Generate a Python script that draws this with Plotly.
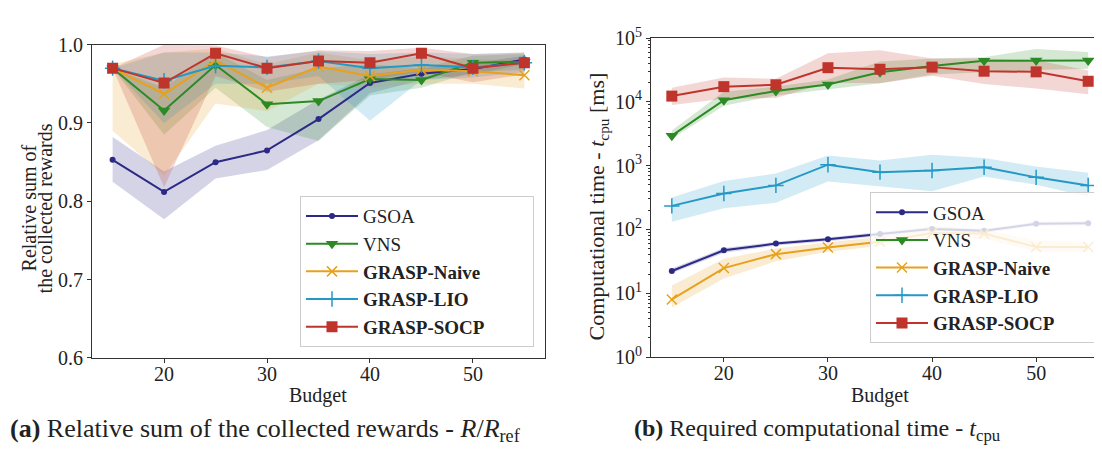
import plotly.graph_objects as go

W, H = 1102, 449

budget = [15, 20, 25, 30, 35, 40, 45, 50, 55]
names = ["GSOA", "VNS", "<b>GRASP-Naive</b>", "<b>GRASP-LIO</b>", "<b>GRASP-SOCP</b>"]
colors = ["#2c2a86", "#2b8a24", "#e8a11c", "#2499c6", "#bf352b"]
symbols = ["circle", "triangle-down", "x-thin-open", "cross-thin-open", "square"]
msizes = [6, 11, 10, 11, 11]

# (a) relative sum of rewards: mean, lower, upper
rew_gsoa = [0.853, 0.812, 0.850, 0.865, 0.905, 0.951, 0.963, 0.969, 0.981]
rew_gsoa_lo = [0.825, 0.777, 0.829, 0.840, 0.878, 0.938, 0.955, 0.962, 0.975]
rew_gsoa_hi = [0.882, 0.838, 0.871, 0.891, 0.930, 0.962, 0.970, 0.976, 0.986]
rew_vns = [0.970, 0.916, 0.974, 0.924, 0.928, 0.956, 0.955, 0.977, 0.978]
rew_vns_lo = [0.970, 0.885, 0.945, 0.895, 0.877, 0.935, 0.945, 0.965, 0.968]
rew_vns_hi = [0.970, 0.945, 0.990, 0.955, 0.970, 0.975, 0.970, 0.986, 0.988]
rew_naive = [0.970, 0.937, 0.980, 0.945, 0.972, 0.960, 0.968, 0.966, 0.961]
rew_naive_lo = [0.890, 0.833, 0.925, 0.915, 0.950, 0.945, 0.950, 0.950, 0.944]
rew_naive_hi = [0.975, 0.990, 0.995, 0.975, 0.990, 0.980, 0.985, 0.982, 0.980]
rew_lio = [0.970, 0.954, 0.973, 0.971, 0.979, 0.970, 0.974, 0.971, 0.977]
rew_lio_lo = [0.970, 0.900, 0.950, 0.950, 0.960, 0.903, 0.955, 0.958, 0.965]
rew_lio_hi = [0.970, 0.990, 0.990, 0.985, 0.992, 0.988, 0.990, 0.988, 0.990]
rew_socp = [0.970, 0.951, 0.989, 0.970, 0.979, 0.977, 0.989, 0.970, 0.977]
rew_socp_lo = [0.970, 0.818, 0.960, 0.940, 0.950, 0.955, 0.965, 0.952, 0.962]
rew_socp_hi = [0.970, 1.000, 0.999, 0.984, 0.993, 0.992, 0.996, 0.988, 0.990]

# (b) computational time [ms]: mean, lower, upper
t_gsoa = [22.3, 47, 60, 70, 85, 102, 95, 123, 125]
t_gsoa_lo = [20.5, 43, 56, 65, 79, 95, 88, 114, 116]
t_gsoa_hi = [24.5, 51, 64, 75, 91, 110, 102, 132, 134]
t_vns = [2950, 10600, 14800, 18700, 29000, 36300, 44100, 44400, 44400]
t_vns_lo = [2630, 8700, 12600, 15800, 19500, 26900, 28800, 31600, 33100]
t_vns_hi = [3550, 14400, 17400, 22400, 42700, 47900, 50100, 67600, 60300]
t_naive = [8.0, 24.8, 41, 52, 64, 88, 86, 53, 53]
t_naive_lo = [6.0, 17.0, 31.6, 44.7, 55.0, 70.8, 70.8, 44.7, 44.7]
t_naive_hi = [13.2, 34.7, 50.1, 63.1, 75.9, 112, 100, 67.6, 63.1]
t_lio = [234, 366, 490, 1035, 790, 840, 945, 655, 487]
t_lio_lo = [132, 214, 263, 562, 479, 398, 676, 501, 324]
t_lio_hi = [316, 575, 750, 1445, 1200, 1480, 1320, 966, 776]
t_socp = [12300, 17300, 18500, 34300, 32400, 35000, 30200, 29500, 21000]
t_socp_lo = [8900, 11200, 11500, 20000, 19500, 25700, 19000, 16200, 13200]
t_socp_hi = [16600, 24000, 23000, 57500, 64600, 47900, 47900, 44700, 30900]

rew = [(rew_gsoa, rew_gsoa_lo, rew_gsoa_hi), (rew_vns, rew_vns_lo, rew_vns_hi),
       (rew_naive, rew_naive_lo, rew_naive_hi), (rew_lio, rew_lio_lo, rew_lio_hi),
       (rew_socp, rew_socp_lo, rew_socp_hi)]
tcpu = [(t_gsoa, t_gsoa_lo, t_gsoa_hi), (t_vns, t_vns_lo, t_vns_hi),
        (t_naive, t_naive_lo, t_naive_hi), (t_lio, t_lio_lo, t_lio_hi),
        (t_socp, t_socp_lo, t_socp_hi)]

# invisible trailing padding so the legend box is as wide as the reference's
PAD = "&nbsp;" * 9


def rgba(hexc, a):
    h = hexc.lstrip("#")
    r, g, b = int(h[0:2], 16), int(h[2:4], 16), int(h[4:6], 16)
    return f"rgba({r},{g},{b},{a})"


fig = go.Figure()

for (data, xa, ya, leg) in [(rew, "x", "y", "legend"), (tcpu, "x2", "y2", "legend2")]:
    for i, (m, lo, hi) in enumerate(data):
        fig.add_trace(go.Scatter(
            x=budget + budget[::-1], y=hi + lo[::-1], fill="toself",
            fillcolor=rgba(colors[i], 0.2), line=dict(width=0), mode="lines",
            hoverinfo="skip", showlegend=False, xaxis=xa, yaxis=ya))
    for i, (m, lo, hi) in enumerate(data):
        sym = symbols[i]
        mk = dict(symbol=sym, size=msizes[i], color=colors[i])
        if "open" in sym:
            mk["line"] = dict(color=colors[i], width=1.5)
        fig.add_trace(go.Scatter(
            x=budget, y=m, mode="lines+markers", name=names[i] + PAD,
            line=dict(color=colors[i], width=2), marker=mk,
            xaxis=xa, yaxis=ya, legend=leg))

FONT = "Liberation Serif"
axcol = "#333333"
TXT = "#222222"
TS = 20


def px_x(p):
    return p / W


def px_y(p):
    return 1 - p / H


common_x = dict(showline=True, mirror=True, linecolor=axcol, linewidth=1.2,
                ticks="outside", ticklen=4, tickcolor=axcol, showgrid=False,
                zeroline=False, tickvals=[20, 30, 40, 50], range=[13, 57],
                ticklabelstandoff=-6,
                tickfont=dict(size=TS, color=TXT, family=FONT))

legfont = dict(size=19, family=FONT, color=TXT)

fig.update_layout(
    width=W, height=H, margin=dict(l=0, r=0, t=0, b=0),
    paper_bgcolor="white", plot_bgcolor="white",
    font=dict(family=FONT, size=TS, color=TXT),
    xaxis=dict(domain=[px_x(84), px_x(537)], anchor="y", **common_x),
    yaxis=dict(domain=[px_y(356), px_y(25)], anchor="x", range=[0.6, 1.0],
               tickvals=[0.6, 0.7, 0.8, 0.9, 1.0], tickformat=".1f",
               showline=True, mirror=True, linecolor=axcol, linewidth=1.2,
               ticks="outside", ticklen=4, tickcolor=axcol, showgrid=False,
               zeroline=False, tickfont=dict(size=TS, color=TXT, family=FONT)),
    xaxis2=dict(domain=[px_x(643), px_x(1101)], anchor="y2", **common_x),
    yaxis2=dict(domain=[px_y(355), px_y(18)], anchor="x2", type="log", range=[0, 5],
                tickvals=[1, 10, 100, 1000, 10000, 100000],
                ticktext=["10<sup>0</sup>", "10<sup>1</sup>", "10<sup>2</sup>",
                          "10<sup>3</sup>", "10<sup>4</sup>", "10<sup>5</sup>"],
                showline=True, mirror=True, linecolor=axcol, linewidth=1.2,
                ticks="outside", ticklen=4, tickcolor=axcol, showgrid=False,
                zeroline=False, tickfont=dict(size=TS, color=TXT, family=FONT),
                minor=dict(ticks="outside", ticklen=2, tickcolor=axcol,
                           tickvals=[k * 10 ** e for e in range(0, 5) for k in range(2, 10)],
                           showgrid=False)),
    legend=dict(x=px_x(526), y=px_y(185), xanchor="right", yanchor="top",
                bgcolor="rgba(255,255,255,0.8)", bordercolor="#cccccc", borderwidth=1,
                font=legfont, tracegroupgap=0, itemwidth=52),
    legend2=dict(x=px_x(1096), y=px_y(181), xanchor="right", yanchor="top",
                 bgcolor="rgba(255,255,255,0.8)", bordercolor="#cccccc", borderwidth=1,
                 font=legfont, tracegroupgap=0, itemwidth=52),
)

ann = [
    dict(text="Relative sum of", x=px_x(21), y=px_y(198), textangle=-90,
         font=dict(size=20)),
    dict(text="the collected rewards", x=px_x(37), y=px_y(198), textangle=-90,
         font=dict(size=20)),
    dict(text="Computational time - <i>t</i><sub>cpu</sub> [ms]", x=px_x(590), y=px_y(196),
         textangle=-90, font=dict(size=22)),
    dict(text="Budget", x=px_x(310), y=px_y(396), font=dict(size=20)),
    dict(text="Budget", x=px_x(872), y=px_y(396), font=dict(size=20)),
]
for a in ann:
    a.update(xanchor="center")
caps = [
    dict(text="<b>(a)</b> Relative sum of the collected rewards - <i>R</i>/<i>R</i><sub>ref</sub>",
         x=px_x(0), y=px_y(432), font=dict(size=26), xanchor="left"),
    dict(text="<b>(b)</b> Required computational time - <i>t</i><sub>cpu</sub>",
         x=px_x(624), y=px_y(432), font=dict(size=24), xanchor="left"),
]
ann += caps
for a in ann:
    a.update(xref="paper", yref="paper", showarrow=False, yanchor="middle")
fig.update_layout(annotations=ann)

fig.write_html("out.html")
